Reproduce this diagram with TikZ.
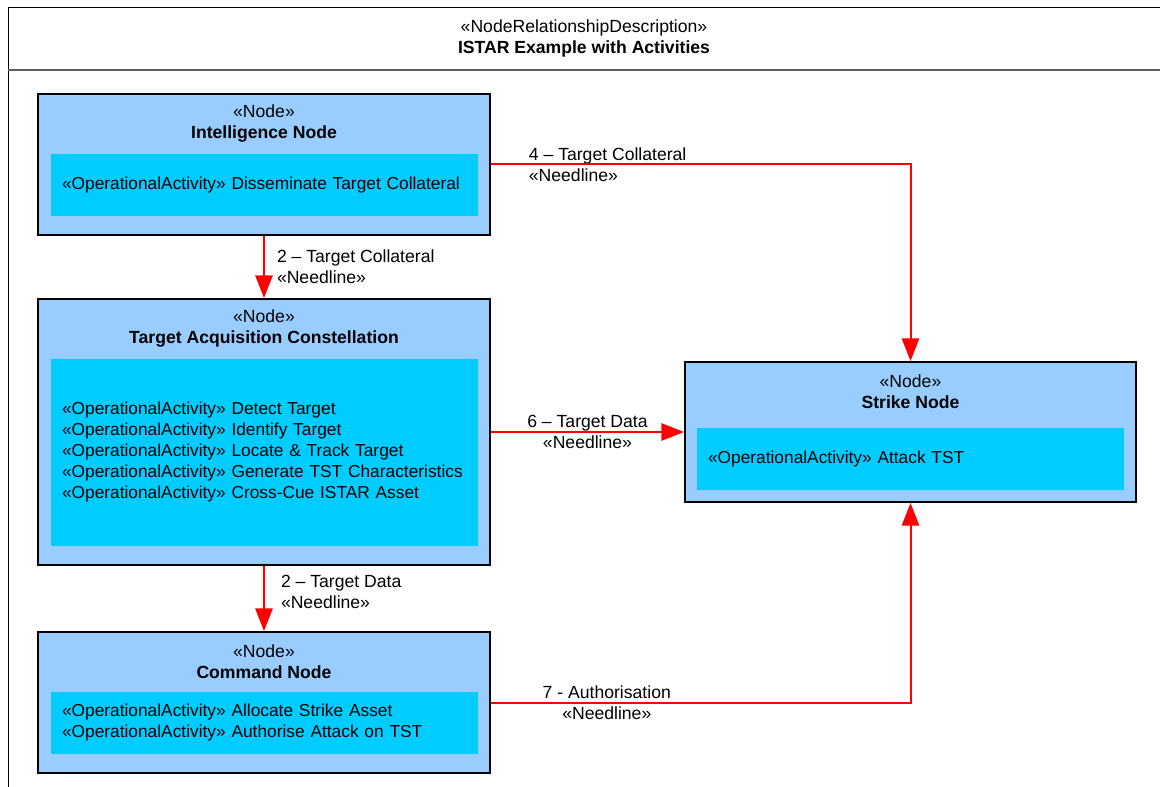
\documentclass[tikz,border=0pt]{standalone}
\usepackage{fontspec}
\setmainfont{Liberation Sans}
\usetikzlibrary{arrows.meta,positioning}

\definecolor{nodeblue}{RGB}{153,204,255}
\definecolor{actcyan}{RGB}{0,204,255}
\definecolor{framegray}{RGB}{96,96,96}

\tikzset{
  opnode/.style={draw=black, line width=1.5pt, fill=nodeblue, minimum width=339pt, inner sep=0pt},
  actbox/.style={fill=actcyan, text width=303.75pt, inner xsep=8.25pt, inner ysep=0pt, align=left, font=\fontsize{13}{15.75}\selectfont},
  stereo/.style={align=center, inner sep=0pt, font=\fontsize{13.2}{15.75}\selectfont},
  lbl/.style={align=left, inner sep=0pt, font=\fontsize{13.2}{15.75}\selectfont},
  needline/.style={draw=red, line width=1.5pt, -{Triangle[length=17pt,width=13pt]}},
}

\begin{document}
\begin{tikzpicture}[x=0.75pt,y=0.75pt,yscale=-1,xscale=1]
        \useasboundingbox (0,0) rectangle (1160,787);
        % Frame
        \draw [line width=0.75pt] (8,800) -- (8,8) -- (1170,8) ;
        \draw [color=framegray, line width=1.5pt] (8,70) -- (1170,70) ;
        % Text Node
        \node (title) [stereo] at (584,38) {«NodeRelationshipDescription»\\\textbf{ISTAR Example with Activities}};

        % Intelligence Node
        \node (intel) [opnode, minimum height=105.75pt] at (264,164.5) {};
        \node (intelName) [stereo] at (264,123.5) {«Node»\\\textbf{Intelligence Node}};
        \node (intelAct) [actbox, minimum height=46.5pt] at (264.5,185) {«OperationalActivity» Disseminate Target Collateral};

        % Target Acquisition Constellation
        \node (tac) [opnode, minimum height=199.5pt] at (264,432) {};
        \node (tacName) [stereo] at (264,328.5) {«Node»\\\textbf{Target Acquisition Constellation}};
        \node (tacAct) [actbox, minimum height=140.25pt] at (264.5,452.5) {«OperationalActivity» Detect Target\\«OperationalActivity» Identify Target\\«OperationalActivity» Locate \& Track Target\\«OperationalActivity» Generate TST Characteristics\\«OperationalActivity» Cross-Cue ISTAR Asset};

        % Command Node
        \node (cmd) [opnode, minimum height=105.75pt] at (264,702.5) {};
        \node (cmdName) [stereo] at (264,661.5) {«Node»\\\textbf{Command Node}};
        \node (cmdAct) [actbox, minimum height=46.5pt] at (264.5,723) {«OperationalActivity» Allocate Strike Asset\\«OperationalActivity» Authorise Attack on TST};

        % Strike Node
        \node (strike) [opnode, minimum width=338.25pt, minimum height=105pt] at (910.5,432) {};
        \node (strikeName) [stereo] at (910.5,391.5) {«Node»\\\textbf{Strike Node}};
        \node (strikeAct) [actbox, minimum height=46.5pt] at (910.5,459) {«OperationalActivity» Attack TST};

        % Connection
        \draw [needline] (intel.south) -- (tac.north) node [lbl, midway, anchor=west, xshift=9pt] {2 – Target Collateral\\«Needline»};
        % Connection
        \draw [needline] (tac.south) -- (cmd.north) node [lbl, pos=0.4, anchor=west, xshift=12pt] {2 – Target Data\\«Needline»};
        % Connection
        \draw [needline] (intel.east) -| (strike.north) node [lbl, pos=0.044, anchor=west] {4 – Target Collateral\\«Needline»};
        % Connection
        \draw [needline] (tac.east) -- (strike.west) node [lbl, midway, align=center] {6 – Target Data\\«Needline»};
        % Connection
        \draw [needline] (cmd.east) -| (strike.south) node [lbl, pos=0.138, align=center] {7 - Authorisation\\«Needline»};
    \end{tikzpicture}
\end{document}
